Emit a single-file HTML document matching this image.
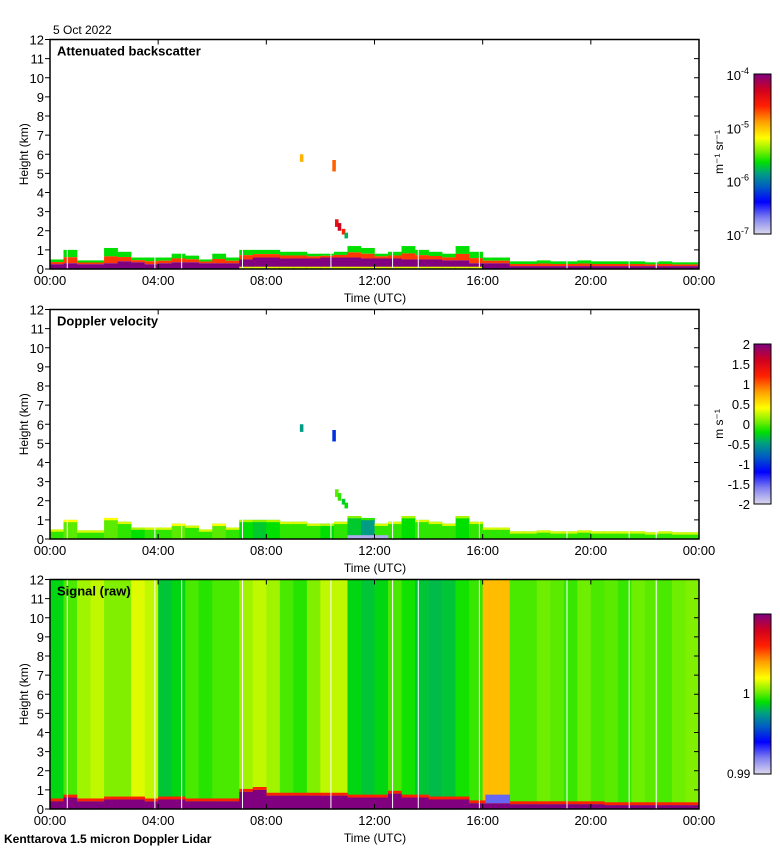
<!DOCTYPE html>
<html><head><meta charset="utf-8"><style>
html,body{margin:0;padding:0;background:#fff;}
svg{display:block;font-family:"Liberation Sans",sans-serif;}
</style></head><body>
<svg id="fig" width="780" height="850" viewBox="0 0 780 850" xmlns="http://www.w3.org/2000/svg">
<defs>
<linearGradient id="cmap" x1="0" y1="1" x2="0" y2="0">
<stop offset="0" stop-color="#dcd8ec"/><stop offset="0.1" stop-color="#8080f0"/><stop offset="0.2" stop-color="#0000ff"/><stop offset="0.3" stop-color="#0060c0"/><stop offset="0.38" stop-color="#00a080"/><stop offset="0.45" stop-color="#00e000"/><stop offset="0.52" stop-color="#80f000"/><stop offset="0.6" stop-color="#ffff00"/><stop offset="0.7" stop-color="#ffa000"/><stop offset="0.8" stop-color="#ff2000"/><stop offset="0.9" stop-color="#d00020"/><stop offset="1" stop-color="#800080"/>
</linearGradient>
</defs>
<text x="53" y="34" font-size="12">5 Oct 2022</text>
<g id="marks"></g>
<g id="axes"></g>
<text x="4" y="843" font-size="12" font-weight="bold">Kenttarova 1.5 micron Doppler Lidar</text>
</svg>
<script>
// ---- data (per 30-minute bin, 48 bins) ----
const aerosolTop = [0.5,1.0,0.45,0.45,1.1,0.9,0.6,0.6,0.6,0.8,0.7,0.5,0.8,0.6,1.0,1.0,1.0,0.9,0.9,0.8,0.8,0.9,1.2,1.1,0.8,0.9,1.2,1.0,0.9,0.8,1.2,0.9,0.6,0.6,0.4,0.4,0.45,0.4,0.4,0.45,0.4,0.4,0.4,0.4,0.35,0.4,0.35,0.35];
const purpleTop = [0.25,0.3,0.25,0.25,0.3,0.4,0.35,0.25,0.3,0.35,0.35,0.3,0.3,0.3,0.5,0.6,0.6,0.55,0.55,0.55,0.6,0.6,0.6,0.55,0.55,0.55,0.5,0.5,0.5,0.45,0.45,0.3,0.3,0.3,0.15,0.15,0.15,0.15,0.15,0.15,0.15,0.15,0.15,0.15,0.15,0.15,0.15,0.15];
const velocity = [-0.1,0.0,-0.1,-0.1,0.0,-0.1,-0.2,-0.1,-0.1,0.0,-0.1,-0.1,0.0,-0.1,-0.2,-0.3,-0.2,-0.1,-0.1,-0.1,-0.2,-0.1,-0.3,-0.5,-0.1,-0.1,-0.2,-0.1,-0.1,-0.1,-0.2,-0.1,-0.1,-0.1,-0.1,-0.1,-0.1,-0.1,-0.1,-0.1,-0.1,-0.1,-0.1,-0.1,-0.1,-0.1,-0.1,-0.1];
const signalLevel = [0.44,0.49,0.54,0.56,0.52,0.52,0.58,0.56,0.42,0.44,0.49,0.47,0.49,0.49,0.54,0.56,0.54,0.49,0.47,0.52,0.56,0.56,0.44,0.42,0.44,0.49,0.46,0.42,0.41,0.42,0.46,0.48,0.67,0.67,0.49,0.49,0.51,0.50,0.48,0.51,0.49,0.50,0.48,0.51,0.50,0.49,0.51,0.52];
const signalBL = [0.4,0.6,0.4,0.4,0.5,0.5,0.5,0.4,0.5,0.5,0.4,0.4,0.4,0.4,0.9,1.0,0.7,0.7,0.7,0.7,0.7,0.7,0.6,0.6,0.6,0.8,0.6,0.6,0.5,0.5,0.5,0.3,0.3,0.3,0.25,0.25,0.25,0.25,0.25,0.25,0.25,0.2,0.2,0.2,0.2,0.2,0.2,0.2];
const gapTimes = [0.62,3.86,4.85,7.1,10.37,12.65,13.6,15.86,19.1,21.4,22.4];
const cloudT = [9.3,10.5,10.6,10.7,10.85,10.95];
const cloudH0 = [5.6,5.1,2.2,2.0,1.8,1.6];
const cloudH1 = [6.0,5.7,2.6,2.4,2.1,1.9];
const cloudBsc = [0.68,0.75,0.85,0.9,0.8,0.4];
const cloudVel = [-0.5,-1.0,0.0,-0.1,-0.3,-0.2];
const tickLabels = ["00:00","04:00","08:00","12:00","16:00","20:00","00:00"];
const velTicks = ["2","1.5","1","0.5","0","-0.5","-1","-1.5","-2"];

// ---- geometry ----
const X0=50, X1=699, PH=229.5, tops=[39.5,309.5,579.5];
const xS = t => X0 + t/24*(X1-X0);
const yS = (p,h) => tops[p] + PH - h/12*PH;
const stops=[[0,[220,216,236]],[0.1,[128,128,240]],[0.2,[0,0,255]],[0.3,[0,96,192]],[0.38,[0,160,128]],[0.45,[0,224,0]],[0.52,[128,240,0]],[0.6,[255,255,0]],[0.7,[255,160,0]],[0.8,[255,32,0]],[0.9,[208,0,32]],[1,[128,0,128]]];
function cmap(v){v=Math.max(0,Math.min(1,v));for(let i=1;i<stops.length;i++){if(v<=stops[i][0]){const a=stops[i-1],b=stops[i],f=(v-a[0])/(b[0]-a[0]);return 'rgb('+a[1].map((c,k)=>Math.round(c+(b[1][k]-c)*f)).join(',')+')';}}return 'rgb(128,0,128)';}
const NS='http://www.w3.org/2000/svg';
const marks=document.getElementById('marks'), axes=document.getElementById('axes');
function rect(parent,x,y,w,h,fill){const r=document.createElementNS(NS,'rect');r.setAttribute('x',x);r.setAttribute('y',y);r.setAttribute('width',w);r.setAttribute('height',Math.max(0,h));r.setAttribute('fill',fill);parent.appendChild(r);return r;}
function cell(p,t0,t1,h0,h1,v){return rect(marks,xS(t0),yS(p,h1),xS(t1)-xS(t0)+0.3,yS(p,h0)-yS(p,h1),cmap(v));}
const vToC = v => (v+2)/4;

const bw=0.5;
signalLevel.forEach((v,i)=>{
 const c=cell(2,i*bw,(i+1)*bw,0,12,v);
 
 
});
signalBL.forEach((h,i)=>{
 const f=cell(2,i*bw,(i+1)*bw,h,h+0.15,0.8);
 
 
 const c=cell(2,i*bw,(i+1)*bw,0,h,1);
 
 
});
const bluePatch=cell(2,16.1,17.0,0.3,0.75,0.12);



aerosolTop.forEach((top,i)=>{
 const t0=i*bw,t1=(i+1)*bw,pt=purpleTop[i];
 const mid=pt+(top-pt)*0.45;
 let a=cell(0,t0,t1,mid,top,0.45);
 a=cell(0,t0,t1,pt,mid,0.78);
 a=cell(0,t0,t1,0,pt,1);
 if(i>=14&&i<=31){a=cell(0,t0,t1,0,0.12,0.58);}
 let b=cell(1,t0,t1,0,top,vToC(velocity[i]));
 b=cell(1,t0,t1,top-0.12,top,vToC(velocity[i]+0.4));
});
const vl=cell(1,11.0,12.5,0,0.2,0.05);
cloudT.forEach((t,i)=>{
 let c=cell(0,t-0.06,t+0.06,cloudH0[i],cloudH1[i],cloudBsc[i]);
 c=cell(1,t-0.06,t+0.06,cloudH0[i],cloudH1[i],vToC(cloudVel[i]));
});
gapTimes.forEach(t=>{
 for(let p=0;p<3;p++){const g=rect(marks,xS(t),tops[p],1,PH,'#fff');}
});

function line(x1,y1,x2,y2){const l=document.createElementNS(NS,'line');l.setAttribute('x1',x1);l.setAttribute('y1',y1);l.setAttribute('x2',x2);l.setAttribute('y2',y2);l.setAttribute('stroke','#000');l.setAttribute('stroke-width','1');axes.appendChild(l);return l;}
function text(x,y,s,size,anchor,extra){const t=document.createElementNS(NS,'text');t.setAttribute('x',x);t.setAttribute('y',y);t.setAttribute('font-size',size);t.setAttribute('text-anchor',anchor||'start');if(extra)for(const k in extra)t.setAttribute(k,extra[k]);t.textContent=s;axes.appendChild(t);return t;}
const titles=['Attenuated backscatter','Doppler velocity','Signal (raw)'];
for(let p=0;p<3;p++){
 const T=tops[p],B=T+PH;
 const fr=rect(axes,X0,T,X1-X0,PH,'none');fr.setAttribute('stroke','#000');fr.setAttribute('stroke-width','1.5');
 
 
 for(let k=0;k<=12;k++){const y=yS(p,k);line(X0-5,y,X0,y);line(X1-5,y,X1,y);
  const lb=text(X0-6,y+5,String(k),13,'end');
  
  }
 tickLabels.forEach((s,k)=>{const x=xS(k*4);line(x,T,x,T+5);line(x,B-5,x,B);
  const lb=text(x,B+16,s,13,'middle');
  
  });
 const xt=text(375,B+33,'Time (UTC)',12,'middle');
 
 
 const yt=text(0,0,'Height (km)',12,'middle',{transform:'translate(28,'+(T+PH/2)+') rotate(-90)'});
 
 
 const tt=text(57,T+16,titles[p],13,'start',{'font-weight':'bold'});
 
 
 const cb=rect(axes,754,T+34.5,17,160,'url(#cmap)');cb.setAttribute('stroke','#000');
 
 
}
['-4','-5','-6','-7'].forEach((e,k)=>{const t=text(749,74+k*53.3+6,'10',13,'end');const s=document.createElementNS(NS,'tspan');s.setAttribute('font-size','9');s.setAttribute('dy','-6');s.textContent=e;t.appendChild(s);
 
 });
const u1=text(0,0,'m\u207B\u00B9 sr\u207B\u00B9',12,'middle',{transform:'translate(723,152) rotate(-90)'});


velTicks.forEach((s,k)=>{const t=text(750,344+k*20+5,s,13,'end');
 
 });
const u2=text(0,0,'m s\u207B\u00B9',12,'middle',{transform:'translate(723,424) rotate(-90)'});


let l3=text(750,698,'1',13,'end');


l3=text(727,778,'0.99',12,'start');


</script>
</body></html>
